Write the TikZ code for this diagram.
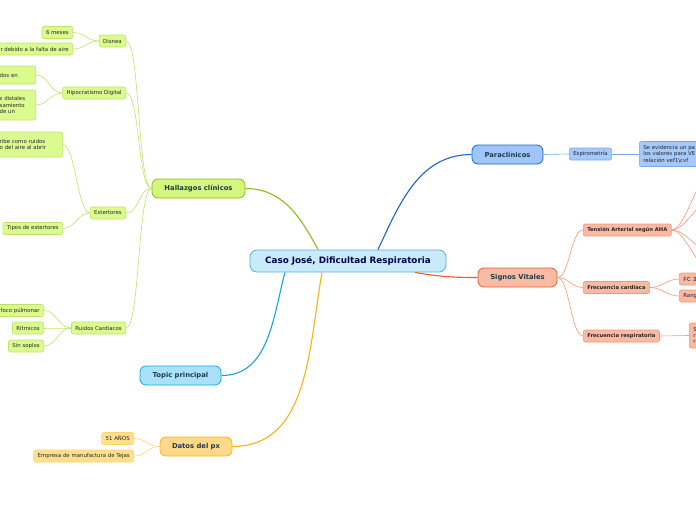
\documentclass[tikz,border=0pt]{standalone}
\usepackage{fontspec}
\setmainfont{DejaVu Sans}
\newfontfamily\monofont{Liberation Mono}

\definecolor{rootfill}{HTML}{C8EAF9}
\definecolor{rootline}{HTML}{5AAEE0}
\definecolor{greenfill}{HTML}{D4F57E}
\definecolor{greenline}{HTML}{8CBC1C}
\definecolor{greenleaf}{HTML}{DBFB8F}
\definecolor{greenleafline}{HTML}{BEE36A}
\definecolor{bluefill}{HTML}{9FC6F7}
\definecolor{blueline}{HTML}{1B63D4}
\definecolor{blueleaf}{HTML}{A5C9F9}
\definecolor{blueleafline}{HTML}{78A8EA}
\definecolor{redfill}{HTML}{F9BBA4}
\definecolor{redline}{HTML}{F0582A}
\definecolor{redleaf}{HTML}{FAB9A3}
\definecolor{redleafline}{HTML}{F5967A}
\definecolor{cyanfill}{HTML}{A9E1FA}
\definecolor{cyanline}{HTML}{15A3E6}
\definecolor{yellowfill}{HTML}{FFD98A}
\definecolor{yellowline}{HTML}{F8B414}
\definecolor{yellowleaf}{HTML}{FFE08E}
\definecolor{yellowleafline}{HTML}{FFD36A}
\definecolor{darktext}{HTML}{1F3B4D}

\tikzset{
  rootbox/.style={draw=rootline, fill=rootfill, rounded corners=7pt, line width=0.8pt,
    minimum width=196pt, minimum height=22pt, text=blue!30!black,
    font=\bfseries\fontsize{8.8}{10}\selectfont},
  topicbox/.style={rounded corners=6pt, line width=0.8pt, minimum height=19pt,
    text=darktext, font=\bfseries\fontsize{6.8}{8}\selectfont},
  leafbox/.style={rounded corners=2pt, line width=0.6pt, inner xsep=4pt, inner ysep=0pt,
    minimum height=12pt, text=black!85, font=\fontsize{5.4}{6.3}\selectfont},
  green/.style={leafbox, draw=greenleafline, fill=greenleaf},
  blue/.style={leafbox, draw=blueleafline, fill=blueleaf},
  red/.style={leafbox, draw=redleafline, fill=redleaf},
  yellow/.style={leafbox, draw=yellowleafline, fill=yellowleaf},
  multi/.style={align=left, inner ysep=2pt},
  sublink/.style={line width=0.6pt}
}

\begin{document}
\begin{tikzpicture}[x=1pt, y=-1pt]
  \useasboundingbox (0,0) rectangle (696,520);
  \clip (0,0) rectangle (696,520);

  % Zentrum und Hauptthemen
  \node[rootbox] (caso) at (348,261) {Caso José, Dificultad Respiratoria};
  \node[topicbox, draw=greenline, fill=greenfill, minimum width=93pt] (hallazgos) at (198.5,188.5) {Hallazgos clínicos};
  \node[topicbox, draw=blueline, fill=bluefill, minimum width=71pt] (paraclinicos) at (507.5,154.5) {Paraclínicos};
  \node[topicbox, draw=redline, fill=redfill, minimum width=79pt] (signos) at (517.5,277.5) {Signos Vitales};
  \node[topicbox, draw=cyanline, fill=cyanfill, minimum width=81pt] (topico) at (180.5,375.5) {Topic principal};
  \node[topicbox, draw=yellowline, fill=yellowfill, minimum width=72pt] (datos) at (196,446.5) {Datos del px};

  % Hallazgos clinicos
  \node[green, anchor=east] (disnea) at (126,41) {Disnea};
  \node[green, anchor=east] (meses) at (73,32.5) {6 meses};
  \node[green, anchor=east] (aire) at (73,49) {r debido a la falta de aire};
  \node[green, anchor=east] (hipocratismo) at (126,93) {Hipocratismo Digital};
  \node[green, multi, anchor=east, text width=32pt, minimum height=18pt] (dedos) at (36,75) {dos en\\[3pt]};
  \node[green, multi, anchor=east, text width=32pt, minimum height=30pt] (unas) at (36,105) {s distales\\samiento\\de un};
  \node[green, anchor=east] (estertores) at (126,213) {Estertores};
  \node[green, multi, anchor=east, text width=59pt, minimum height=25pt] (describe) at (63,144.5) {ribe como ruidos\\o del aire al abrir\\[2pt]};
  \node[green, anchor=east] (tipos) at (63,228.5) {Tipos de estertores};
  \node[green, anchor=east] (cardiacos) at (126,328) {Ruidos Cardiacos};
  \node[green, anchor=east] (foco) at (44,310.5) {foco púlmonar};
  \node[green, anchor=east] (ritmicos) at (44,328) {Rítmicos};
  \node[green, anchor=east] (soplos) at (44,346) {Sin soplos};

  % Paraclinicos
  \node[blue, anchor=west] (espiro) at (569,154) {Espirometría};
  \node[blue, multi, anchor=west, text width=100pt, minimum height=25pt] (evidencia) at (639,154) {Se evidencia un pa\\los valores para VE\\relación vef1\textbackslash cvf};

  % Signos vitales
  \node[red, anchor=west, font=\bfseries\fontsize{5.2}{6.2}\selectfont] (tension) at (583,230) {Tensión Arterial según AHA};
  \node[red, anchor=west, font=\bfseries\fontsize{5.2}{6.2}\selectfont] (fcard) at (583,287.5) {Frecuencia cardiaca};
  \node[red, anchor=west, font=\bfseries\fontsize{5.2}{6.2}\selectfont] (fresp) at (583,336) {Frecuencia respiratoria};
  \node[red, anchor=west, text width=30pt, align=left, font=\monofont\fontsize{6.2}{7}\selectfont] (fcuno) at (679,279) {FC 3};
  \node[red, anchor=west, text width=30pt, align=left] (rango) at (679,296) {Rang};
  \node[red, multi, anchor=west, text width=30pt, minimum height=25pt] (frhoja) at (689,335.5) {S\\r\\r};
  \coordinate (ta1) at (712,172);
  \coordinate (ta2) at (712,200);
  \coordinate (ta3) at (712,252);
  \coordinate (ta4) at (712,272);

  % Datos del px
  \node[yellow, anchor=east] (anos) at (134,438.5) {51 AÑOS};
  \node[yellow, anchor=east] (empresa) at (134,456) {Empresa de manufactura de Tejas};

  % Verbindungen Zentrum
  \draw[greenline, line width=1.1pt] ([xshift=-30pt]caso.north) to[out=118, in=0] (hallazgos.east);
  \draw[blueline, line width=1.1pt] ([xshift=30pt]caso.north) to[out=65, in=180] (paraclinicos.west);
  \draw[redline, line width=1.1pt] ([xshift=67pt]caso.south) to[out=-10, in=180] (signos.west);
  \draw[cyanline, line width=1.1pt] ([xshift=-63pt]caso.south) to[out=-105, in=0] (topico.east);
  \draw[yellowline, line width=1.1pt] ([xshift=-26pt]caso.south) to[out=-100, in=0] (datos.east);

  % Verbindungen Hallazgos
  \foreach \n in {disnea, hipocratismo, estertores, cardiacos}
    \draw[sublink, greenleafline] (hallazgos.west) .. controls +(-14,0) and +(14,0) .. (\n.east);
  \foreach \n in {meses, aire}
    \draw[sublink, greenleafline] (disnea.west) .. controls +(-12,0) and +(12,0) .. (\n.east);
  \foreach \n in {dedos, unas}
    \draw[sublink, greenleafline] (hipocratismo.west) .. controls +(-12,0) and +(12,0) .. (\n.east);
  \foreach \n in {describe, tipos}
    \draw[sublink, greenleafline] (estertores.west) .. controls +(-12,0) and +(12,0) .. (\n.east);
  \foreach \n in {foco, ritmicos, soplos}
    \draw[sublink, greenleafline] (cardiacos.west) .. controls +(-12,0) and +(12,0) .. (\n.east);

  % Verbindungen Paraclinicos
  \draw[sublink, blueleafline] (paraclinicos.east) -- (espiro.west);
  \draw[sublink, blueleafline] (espiro.east) -- (evidencia.west);

  % Verbindungen Signos
  \foreach \n in {tension, fcard, fresp}
    \draw[sublink, redleafline] (signos.east) .. controls +(12,0) and +(-12,0) .. (\n.west);
  \foreach \n in {ta1, ta2, ta3, ta4}
    \draw[sublink, redleafline] (tension.east) .. controls +(14,0) and +(-14,0) .. (\n);
  \foreach \n in {fcuno, rango}
    \draw[sublink, redleafline] (fcard.east) .. controls +(12,0) and +(-12,0) .. (\n.west);
  \draw[sublink, redleafline] (fresp.east) -- (frhoja.west);

  % Verbindungen Datos
  \foreach \n in {anos, empresa}
    \draw[sublink, yellowleafline] (datos.west) .. controls +(-12,0) and +(12,0) .. (\n.east);
\end{tikzpicture}
\end{document}
